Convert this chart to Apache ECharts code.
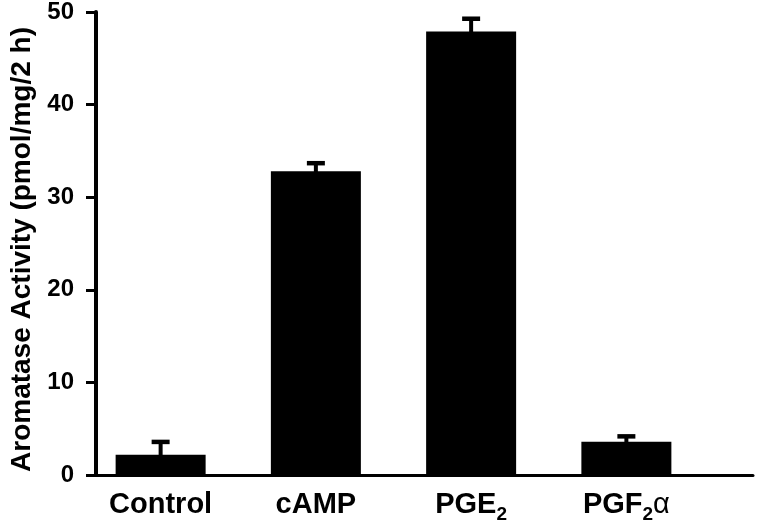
<!DOCTYPE html>
<html>
<head>
<meta charset="utf-8">
<script src="https://cdn.jsdelivr.net/npm/echarts@6/dist/echarts.min.js"></script>
<style>
html,body{margin:0;padding:0;background:#fff;}
#chart{width:760px;height:530px;}
</style>
</head>
<body>
<div id="chart"></div>
<script>
// Data
var categories = ['Control', 'cAMP', 'PGE2', 'PGF2a'];
var categoryLabels = ['{a|Control}', '{a|cAMP}', '{a|PGE}{s|2}', '{a|PGF}{s|2}{g|\u03b1}'];
var means = [2.2, 32.8, 47.9, 3.6];
var errorTops = [3.6, 33.7, 49.3, 4.2];
var yTicks = [0, 10, 20, 30, 40, 50];
var yTitle = 'Aromatase Activity (pmol/mg/2 h)';

var FONT = '"Liberation Sans", Arial, Helvetica, sans-serif';

var chart = echarts.init(document.getElementById('chart'), null, {renderer: 'canvas'});

var errData = categories.map(function (c, i) { return [i, means[i], errorTops[i]]; });

var option = {
  backgroundColor: '#ffffff',
  animation: false,
  grid: [
    {left: 80, right: 56, top: 11, bottom: 55},
    {left: 93, right: 7, top: 11, bottom: 55}
  ],
  xAxis: [
    {
      type: 'category',
      gridIndex: 0,
      data: categories,
      boundaryGap: true,
      axisLine: {show: false},
      axisTick: {show: false},
      splitLine: {show: false},
      axisLabel: {
        margin: 11,
        interval: 0,
        formatter: function (v, i) { return categoryLabels[i]; },
        rich: {
          a: {fontFamily: FONT, fontWeight: 'bold', fontSize: 29, color: '#000', lineHeight: 38},
          s: {fontFamily: FONT, fontWeight: 'bold', fontSize: 19, color: '#000', verticalAlign: 'bottom'},
          g: {fontFamily: FONT, fontWeight: 'normal', fontSize: 29, color: '#000', lineHeight: 38}
        }
      }
    },
    {
      type: 'value',
      gridIndex: 1,
      min: 0, max: 1,
      axisLine: {show: true, onZero: false, lineStyle: {color: '#000', width: 3}},
      axisTick: {show: false},
      axisLabel: {show: false},
      splitLine: {show: false}
    }
  ],
  yAxis: [
    {
      type: 'value',
      gridIndex: 0,
      min: 0, max: 50, interval: 10,
      offset: -13,
      name: yTitle,
      nameLocation: 'middle',
      nameGap: 60,
      nameTextStyle: {fontFamily: FONT, fontWeight: 'bold', fontSize: 28, color: '#000', padding: [0, 12, 0, 0]},
      axisLine: {show: true, lineStyle: {color: '#000', width: 4}},
      axisTick: {show: true, length: 10, lineStyle: {color: '#000', width: 3}},
      splitLine: {show: false},
      axisLabel: {
        margin: 22,
        fontFamily: FONT, fontWeight: 'bold', fontSize: 24, color: '#000',
        formatter: function (v) { return yTicks.indexOf(v) >= 0 ? String(v) : ''; }
      }
    },
    {
      type: 'value', gridIndex: 1, min: 0, max: 1, show: false
    }
  ],
  series: [
    {
      type: 'bar',
      xAxisIndex: 0, yAxisIndex: 0,
      data: means,
      barWidth: 90,
      itemStyle: {color: '#000'},
      z: 2
    },
    {
      type: 'custom',
      xAxisIndex: 0, yAxisIndex: 0,
      data: errData,
      z: 3,
      renderItem: function (params, api) {
        var idx = api.value(0);
        var pTop = api.coord([idx, api.value(2)]);
        var pMean = api.coord([idx, api.value(1)]);
        var x = pTop[0];
        return {
          type: 'group',
          children: [
            {type: 'rect', shape: {x: x - 2, y: pTop[1], width: 4, height: pMean[1] - pTop[1] + 1}, style: {fill: '#000'}},
            {type: 'rect', shape: {x: x - 9, y: pTop[1] - 2, width: 18, height: 4.5}, style: {fill: '#000'}}
          ]
        };
      }
    }
  ]
};
chart.setOption(option);
</script>
</body>
</html>
